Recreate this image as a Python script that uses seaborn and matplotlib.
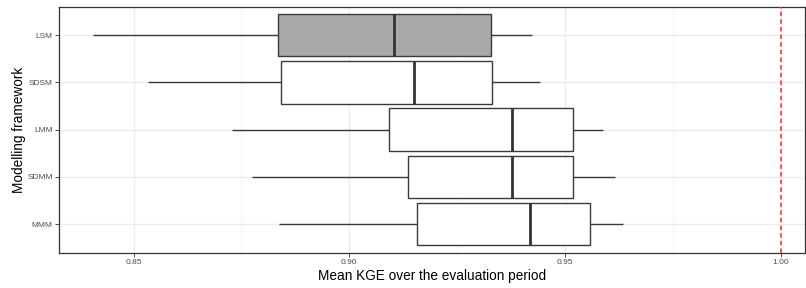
import numpy as np
import pandas as pd
import matplotlib
matplotlib.use("Agg")
import matplotlib.pyplot as plt
from matplotlib.ticker import FixedLocator
import seaborn as sns

# Five-number summaries (whisker low, Q1, median, Q3, whisker high)
frameworks = ["LSM", "SDSM", "LMM", "SDMM", "MMM"]
lsm = [0.8407, 0.8836, 0.9103, 0.9328, 0.9424]
sdsm = [0.8533, 0.8841, 0.9151, 0.9331, 0.9443]
lmm = [0.8729, 0.9093, 0.9378, 0.9519, 0.9588]
sdmm = [0.8774, 0.9136, 0.9378, 0.9519, 0.9616]
mmm = [0.8838, 0.9157, 0.9420, 0.9557, 0.9635]
x_ticks = [0.85, 0.90, 0.95, 1.00]
x_tick_labels = ["0.85", "0.90", "0.95", "1.00"]
ref_line = 1.0

df = pd.DataFrame({
    "framework": np.repeat(frameworks, 5),
    "kge": lsm + sdsm + lmm + sdmm + mmm,
})

sns.set_style("ticks")
plt.rcParams["font.family"] = ["Liberation Sans", "DejaVu Sans"]

fig = plt.figure(figsize=(8.06, 2.88), dpi=100)
ax = fig.add_axes([0.0736, 0.123, 0.925, 0.854])

fills = {"LSM": "#a9a9a9", "SDSM": "white", "LMM": "white", "SDMM": "white", "MMM": "white"}
sns.boxplot(data=df, x="kge", y="framework", hue="framework", order=frameworks,
            palette=fills, legend=False, orient="h", width=0.9, whis=np.inf,
            showcaps=False, linecolor="#3a3a3a", linewidth=1.0, saturation=1,
            medianprops={"linewidth": 2.0, "color": "#333333"}, ax=ax)

ax.axvline(ref_line, color="#ff2a2a", lw=1.1, ls=(0, (3, 2)), zorder=5)

ax.set_xlim(0.8328, 1.0056)
ax.set_ylim(4.6, -0.6)
ax.set_xticks(x_ticks)
ax.set_xticklabels(x_tick_labels)
ax.xaxis.set_minor_locator(FixedLocator([0.875, 0.925, 0.975]))
ax.tick_params(axis="x", which="minor", length=0)
ax.tick_params(axis="both", which="major", length=2.7, width=0.6, color="#333333",
               labelsize=6.0, labelcolor="#4d4d4d", pad=2)

ax.set_axisbelow(True)
ax.grid(which="major", color="#ebebeb", lw=1.0)
ax.grid(which="minor", axis="x", color="#f2f2f2", lw=0.6)

for s in ax.spines.values():
    s.set_visible(True)
    s.set_color("#333333")
    s.set_linewidth(0.9)

ax.set_xlabel("Mean KGE over the evaluation period", fontsize=9.8, color="black", labelpad=2)
ax.set_ylabel("Modelling framework", fontsize=9.8, color="black", labelpad=1)

fig.savefig("out.png", dpi=100)
